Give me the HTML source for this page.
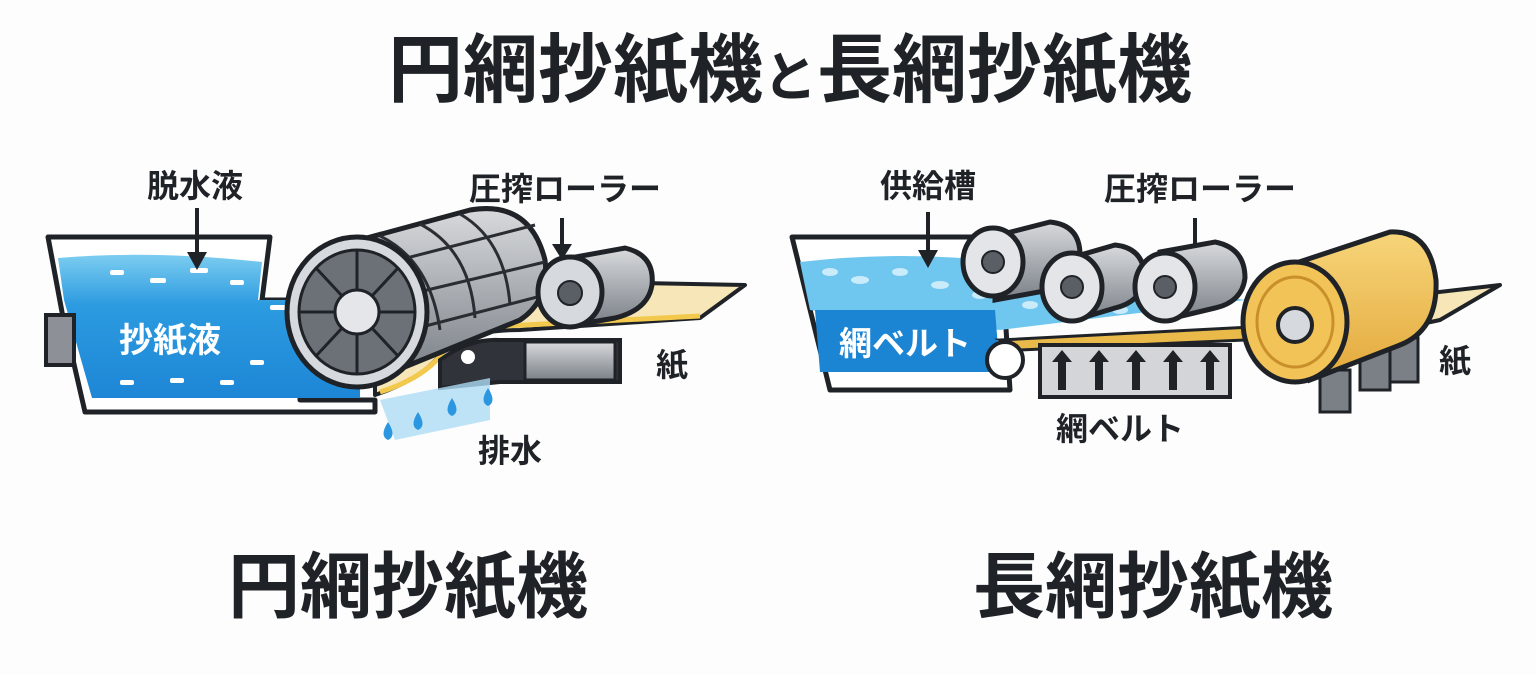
<!DOCTYPE html>
<html><head><meta charset="utf-8"><style>
html,body{margin:0;padding:0;background:#fdfdfd;}
svg{display:block;}
text{font-family:"Liberation Sans","Noto Sans CJK JP",sans-serif;font-weight:bold;fill:#1f2328;}
</style></head><body>
<svg width="1536" height="675" viewBox="0 0 1536 675" xmlns="http://www.w3.org/2000/svg">
<defs>
<linearGradient id="g1" x1="0" y1="0" x2="0" y2="1"><stop offset="0" stop-color="#d8dadd"/><stop offset="0.5" stop-color="#a9adb2"/><stop offset="1" stop-color="#7b8087"/></linearGradient>
<linearGradient id="gy" x1="0" y1="0" x2="0" y2="1"><stop offset="0" stop-color="#f7d57a"/><stop offset="1" stop-color="#e3a93c"/></linearGradient>
<linearGradient id="wb" x1="0" y1="0" x2="0" y2="1"><stop offset="0" stop-color="#7ccdf0"/><stop offset="0.35" stop-color="#2c9be0"/><stop offset="1" stop-color="#1d86d6"/></linearGradient>
</defs>
<text x="790" y="96" font-size="75" text-anchor="middle">円網抄紙機<tspan font-size="54">と</tspan>長網抄紙機</text>

<!-- LEFT MACHINE -->
<path d="M48,237 L270,237 L262,300 L300,300 L300,400 L375,400 L375,412 L85,412 L62,312 Z" fill="#fff" stroke="#1f2328" stroke-width="5" stroke-linejoin="round"/>
<path d="M58,258 Q150,250 262,262 L258,300 L300,300 L360,300 L360,398 L92,398 L64,300 Z" fill="url(#wb)"/>
<rect x="46" y="315" width="28" height="50" fill="#8d9197" stroke="#1f2328" stroke-width="4"/>
<g fill="#fff"><rect x="110" y="270" width="14" height="5" rx="2"/><rect x="150" y="278" width="16" height="5" rx="2"/><rect x="190" y="268" width="18" height="5" rx="2"/><rect x="230" y="280" width="14" height="5" rx="2"/><rect x="120" y="380" width="14" height="5" rx="2"/><rect x="170" y="378" width="14" height="5" rx="2"/><rect x="220" y="380" width="14" height="5" rx="2"/><rect x="250" y="360" width="14" height="5" rx="2"/><rect x="300" y="330" width="12" height="5" rx="2"/><rect x="270" y="305" width="60" height="5" rx="2"/></g>
<text x="170" y="352" font-size="34" text-anchor="middle" style="fill:#fff">抄紙液</text>
<!-- paper band -->
<path d="M375,395 Q420,380 440,355 Q460,330 520,330 L700,318 L745,285 L640,283 L540,300 Q450,300 430,330 Q410,370 375,380 Z" fill="#f6e6b8" stroke="#1f2328" stroke-width="4" stroke-linejoin="round"/>
<path d="M380,392 Q425,378 445,350 Q465,326 525,325 L700,316" fill="none" stroke="#f2c94c" stroke-width="5"/>
<!-- gray block -->
<path d="M440,360 Q470,338 500,340 L620,340 L620,382 L500,382 L440,388 Z" fill="#30343a" stroke="#1f2328" stroke-width="4"/>
<rect x="525" y="342" width="90" height="38" fill="url(#g1)" stroke="#1f2328" stroke-width="3"/>
<circle cx="468" cy="357" r="7" fill="#fff"/>
<!-- drops -->
<path d="M380,400 L490,378 L490,420 L395,440 Z" fill="#aedcf5" opacity="0.8"/>
<g fill="#2a97e0"><path d="M388,422 q-9,14 0,18 q9,-4 0,-18z"/><path d="M418,412 q-9,14 0,18 q9,-4 0,-18z"/><path d="M452,398 q-9,14 0,18 q9,-4 0,-18z"/><path d="M488,388 q-9,14 0,18 q9,-4 0,-18z"/></g>
<!-- drum body -->
<path d="M330,248 L470,210 Q530,200 545,260 Q550,300 520,320 L385,375 Z" fill="url(#g1)" stroke="#1f2328" stroke-width="5" stroke-linejoin="round"/>
<g stroke="#2a2e33" stroke-width="3" fill="none"><path d="M380,236 Q430,260 440,330"/><path d="M420,224 Q470,250 475,318"/><path d="M460,214 Q505,240 510,305"/><path d="M360,270 L535,225"/><path d="M385,300 L545,262"/><path d="M410,330 L545,295"/></g>
<ellipse cx="357" cy="312" rx="70" ry="75" fill="#d6d9dd" stroke="#1f2328" stroke-width="5"/>
<ellipse cx="357" cy="312" rx="58" ry="62" fill="#6c7178" stroke="#1f2328" stroke-width="3"/>
<g stroke="#1f2328" stroke-width="3"><line x1="357" y1="250" x2="357" y2="374"/><line x1="299" y1="312" x2="415" y2="312"/><line x1="316" y1="268" x2="398" y2="356"/><line x1="398" y1="268" x2="316" y2="356"/></g>
<circle cx="357" cy="312" r="22" fill="#e4e6e9" stroke="#1f2328" stroke-width="3"/>
<!-- press roller -->
<path d="M570,258 L625,248 Q655,255 652,285 Q648,310 615,318 L575,325 Z" fill="url(#g1)" stroke="#1f2328" stroke-width="5"/>
<ellipse cx="570" cy="292" rx="32" ry="35" fill="#d6d9dd" stroke="#1f2328" stroke-width="5"/>
<circle cx="570" cy="293" r="12" fill="#5a5f66" stroke="#1f2328" stroke-width="2"/>
<!-- labels left -->
<text x="195" y="197" font-size="32" text-anchor="middle">脱水液</text>
<line x1="197" y1="208" x2="197" y2="258" stroke="#1f2328" stroke-width="4"/><path d="M187,252 L207,252 L197,270 Z" fill="#1f2328"/>
<text x="565" y="200" font-size="32" text-anchor="middle">圧搾ローラー</text>
<line x1="562" y1="218" x2="562" y2="248" stroke="#1f2328" stroke-width="4"/><path d="M552,244 L572,244 L562,260 Z" fill="#1f2328"/>
<text x="672" y="376" font-size="32" text-anchor="middle">紙</text>
<text x="510" y="462" font-size="32" text-anchor="middle">排水</text>

<!-- RIGHT MACHINE -->
<path d="M792,237 L1000,237 L1010,390 L830,390 Z" fill="#fff" stroke="#1f2328" stroke-width="5" stroke-linejoin="round"/>
<path d="M800,262 Q900,250 1005,262 L1245,300 L1000,330 L810,310 Z" fill="#6fc6ee"/>
<g fill="#c9ebfa"><ellipse cx="830" cy="272" rx="8" ry="4"/><ellipse cx="860" cy="280" rx="9" ry="4"/><ellipse cx="900" cy="272" rx="8" ry="4"/><ellipse cx="940" cy="285" rx="9" ry="4"/><ellipse cx="980" cy="295" rx="8" ry="4"/><ellipse cx="1030" cy="305" rx="8" ry="4"/><ellipse cx="1120" cy="310" rx="8" ry="4"/><ellipse cx="1210" cy="305" rx="8" ry="4"/></g>
<path d="M815,310 L995,310 L1000,372 L820,372 Z" fill="#1b85d4"/>
<text x="905" y="355" font-size="33" text-anchor="middle" style="fill:#fff">網ベルト</text>
<!-- belt and box -->
<path d="M1000,340 L1290,325 L1290,338 L1020,350 Z" fill="#e9b949" stroke="#1f2328" stroke-width="3"/>
<rect x="1040" y="345" width="190" height="52" fill="#d3d5d8" stroke="#1f2328" stroke-width="4"/>
<g fill="#1f2328"><path d="M1058,390 v-28 h-6 l10,-12 l10,12 h-6 v28z"/><path d="M1095,390 v-28 h-6 l10,-12 l10,12 h-6 v28z"/><path d="M1132,390 v-28 h-6 l10,-12 l10,12 h-6 v28z"/><path d="M1169,390 v-28 h-6 l10,-12 l10,12 h-6 v28z"/><path d="M1206,390 v-28 h-6 l10,-12 l10,12 h-6 v28z"/></g>
<circle cx="1005" cy="360" r="18" fill="#fff" stroke="#1f2328" stroke-width="4"/>
<!-- legs -->
<rect x="1320" y="370" width="30" height="42" fill="#7b8087" stroke="#1f2328" stroke-width="3"/>
<rect x="1360" y="350" width="30" height="40" fill="#7b8087" stroke="#1f2328" stroke-width="3"/>
<rect x="1390" y="338" width="28" height="44" fill="#7b8087" stroke="#1f2328" stroke-width="3"/>
<!-- paper -->
<path d="M1370,300 L1500,285 L1440,320 L1300,350 Z" fill="#f6e6b8" stroke="#1f2328" stroke-width="4" stroke-linejoin="round"/>
<!-- yellow roller -->
<path d="M1290,265 L1390,232 Q1430,230 1436,280 Q1438,330 1400,345 L1310,380 Z" fill="url(#gy)" stroke="#1f2328" stroke-width="5"/>
<ellipse cx="1295" cy="322" rx="52" ry="60" fill="#f2c356" stroke="#1f2328" stroke-width="5"/>
<ellipse cx="1295" cy="322" rx="38" ry="45" fill="none" stroke="#c88f2a" stroke-width="3"/>
<circle cx="1295" cy="325" r="17" fill="#d6d9dd" stroke="#1f2328" stroke-width="4"/>
<!-- gray rollers -->
<g stroke="#1f2328" stroke-width="5">
<path d="M995,236 L1050,222 Q1080,225 1080,255 Q1078,280 1050,290 L995,300 Z" fill="url(#g1)"/>
<ellipse cx="993" cy="262" rx="30" ry="34" fill="#e3e5e8"/>
<path d="M1070,258 L1115,245 Q1145,248 1145,280 Q1140,302 1115,308 L1075,320 Z" fill="url(#g1)"/>
<ellipse cx="1072" cy="287" rx="30" ry="34" fill="#e3e5e8"/>
<path d="M1160,252 L1215,242 Q1245,248 1245,278 Q1242,302 1215,308 L1165,320 Z" fill="url(#g1)"/>
<ellipse cx="1165" cy="287" rx="30" ry="34" fill="#e3e5e8"/>
</g>
<g fill="#5a5f66" stroke="#1f2328" stroke-width="2"><circle cx="993" cy="262" r="11"/><circle cx="1072" cy="287" r="11"/><circle cx="1165" cy="287" r="11"/></g>
<!-- labels right -->
<text x="928" y="197" font-size="32" text-anchor="middle">供給槽</text>
<line x1="928" y1="212" x2="928" y2="255" stroke="#1f2328" stroke-width="4"/><path d="M918,250 L938,250 L928,268 Z" fill="#1f2328"/>
<text x="1200" y="200" font-size="32" text-anchor="middle">圧搾ローラー</text>
<line x1="1195" y1="218" x2="1195" y2="245" stroke="#1f2328" stroke-width="4"/>
<text x="1455" y="372" font-size="32" text-anchor="middle">紙</text>
<text x="1120" y="440" font-size="32" text-anchor="middle">網ベルト</text>

<text x="408" y="612" font-size="72" text-anchor="middle">円網抄紙機</text>
<text x="1153" y="612" font-size="72" text-anchor="middle">長網抄紙機</text>
</svg>
</body></html>
